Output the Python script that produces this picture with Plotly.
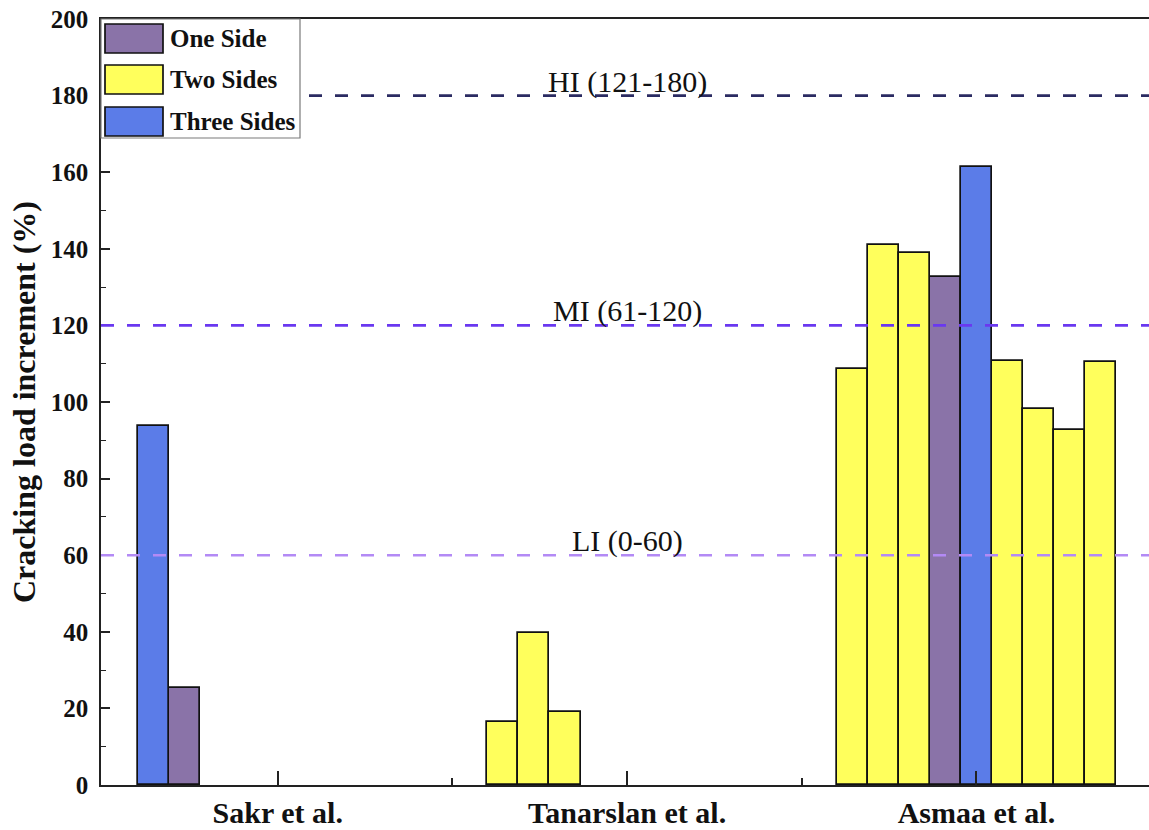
import plotly.graph_objects as go

# Study groups on the x axis
categories = ["Sakr et al.", "Tanarslan et al.", "Asmaa et al."]

# Strengthening configurations and their fill colours
series_names = ["One Side", "Two Sides", "Three Sides"]
series_colors = ["#8A73A8", "#FFFF5C", "#5B7CE8"]

# Cracking load increment (%) per specimen, in plotting order within each study
sakr_types = ["Three Sides", "One Side"]
sakr_values = [93.7, 25.2]

tanarslan_types = ["Two Sides", "Two Sides", "Two Sides"]
tanarslan_values = [16.4, 39.6, 19.1]

asmaa_types = ["Two Sides", "Two Sides", "Two Sides", "One Side", "Three Sides",
               "Two Sides", "Two Sides", "Two Sides", "Two Sides"]
asmaa_values = [108.6, 141.0, 139.0, 132.7, 161.4, 110.6, 98.3, 92.8, 110.5]

# Improvement bands: (label, level, colour)
band_labels = ["LI (0-60)", "MI (61-120)", "HI (121-180)"]
band_levels = [60, 120, 180]
band_colors = ["#B38AF5", "#6A38F0", "#2B2B62"]

groups = [
    (sakr_types, sakr_values),
    (tanarslan_types, tanarslan_values),
    (asmaa_types, asmaa_values),
]

SLOTS = 9
GROUP_WIDTH = 0.8
bar_w = GROUP_WIDTH / SLOTS

SERIF = "Liberation Serif, Times New Roman, serif"
W, H = 1149, 830
ML, MR, MT, MB = 101, 0, 19, 45

fig = go.Figure()

for name, color in zip(series_names, series_colors):
    xs, ys = [], []
    for ci, (types, values) in enumerate(groups):
        for slot, (t, v) in enumerate(zip(types, values)):
            if t == name:
                xs.append(ci + (slot - (SLOTS - 1) / 2) * bar_w)
                ys.append(v)
    fig.add_trace(go.Bar(
        x=xs, y=ys, width=bar_w, name=name,
        marker=dict(color=color, line=dict(color="#111111", width=1.7)),
        showlegend=False,
    ))

# Dashed band thresholds with their labels
for label, level, color in zip(band_labels, band_levels, band_colors):
    fig.add_shape(type="line", xref="paper", x0=0, x1=1, yref="y", y0=level, y1=level,
                  line=dict(color=color, width=2.6, dash="13px,13px"), layer="above")
    fig.add_annotation(x=1, y=level, xref="x", yref="y", text=label, showarrow=False,
                       yanchor="bottom", yshift=-5,
                       font=dict(family=SERIF, size=30, color="#111111"))

# Legend panel in the upper-left corner
pw, ph = W - ML - MR, H - MT - MB


def px_x(p):
    return (p - ML) / pw


def px_y(p):
    return (H - MB - p) / ph


fig.add_shape(type="rect", xref="paper", yref="paper",
              x0=px_x(101), x1=px_x(300), y0=px_y(138), y1=px_y(19),
              fillcolor="white", line=dict(color="#7a7a7a", width=1.2), layer="above")
sw_tops = [24, 65, 107]
for top, name, color in zip(sw_tops, series_names, series_colors):
    fig.add_shape(type="rect", xref="paper", yref="paper",
                  x0=px_x(105), x1=px_x(163), y0=px_y(top + 29), y1=px_y(top),
                  fillcolor=color, line=dict(color="#111111", width=1.7), layer="above")
    fig.add_annotation(xref="paper", yref="paper", x=px_x(168), y=px_y(top + 14.5),
                       xanchor="left", yanchor="middle", text=name, showarrow=False,
                       font=dict(family=SERIF, size=25, color="#111111", weight="bold"))

axis_line = dict(showline=True, linecolor="#222222", linewidth=1.6)

fig.update_layout(
    width=W, height=H,
    margin=dict(l=ML, r=MR, t=MT, b=MB, autoexpand=False),
    plot_bgcolor="white", paper_bgcolor="white",
    bargap=0,
    xaxis=dict(
        range=[-0.506, 2.494], tickmode="array", tickvals=[0, 1, 2], ticktext=categories,
        ticks="inside", ticklen=14, tickwidth=1.6, tickcolor="#222222",
        minor=dict(tickmode="array", tickvals=[0.5, 1.5], ticks="inside", ticklen=7,
                   tickwidth=1.6, tickcolor="#222222"),
        showgrid=False, zeroline=False, mirror=True, **axis_line,
        tickfont=dict(family=SERIF, size=30, color="#111111", weight="bold"),
        ticklabelstandoff=0,
    ),
    yaxis=dict(
        range=[0, 200], dtick=20, tick0=0,
        ticks="inside", ticklen=9, tickwidth=1.6, tickcolor="#222222",
        minor=dict(dtick=10, ticks="inside", ticklen=5, tickwidth=1.4, tickcolor="#222222"),
        showgrid=False, zeroline=False, **axis_line,
        tickfont=dict(family=SERIF, size=25, color="#111111", weight="bold"),
        ticklabelstandoff=6,
        title=dict(text="Cracking load increment (%)", standoff=6,
                   font=dict(family=SERIF, size=32, color="#111111", weight="bold")),
    ),
)

fig.write_html("out.html")
